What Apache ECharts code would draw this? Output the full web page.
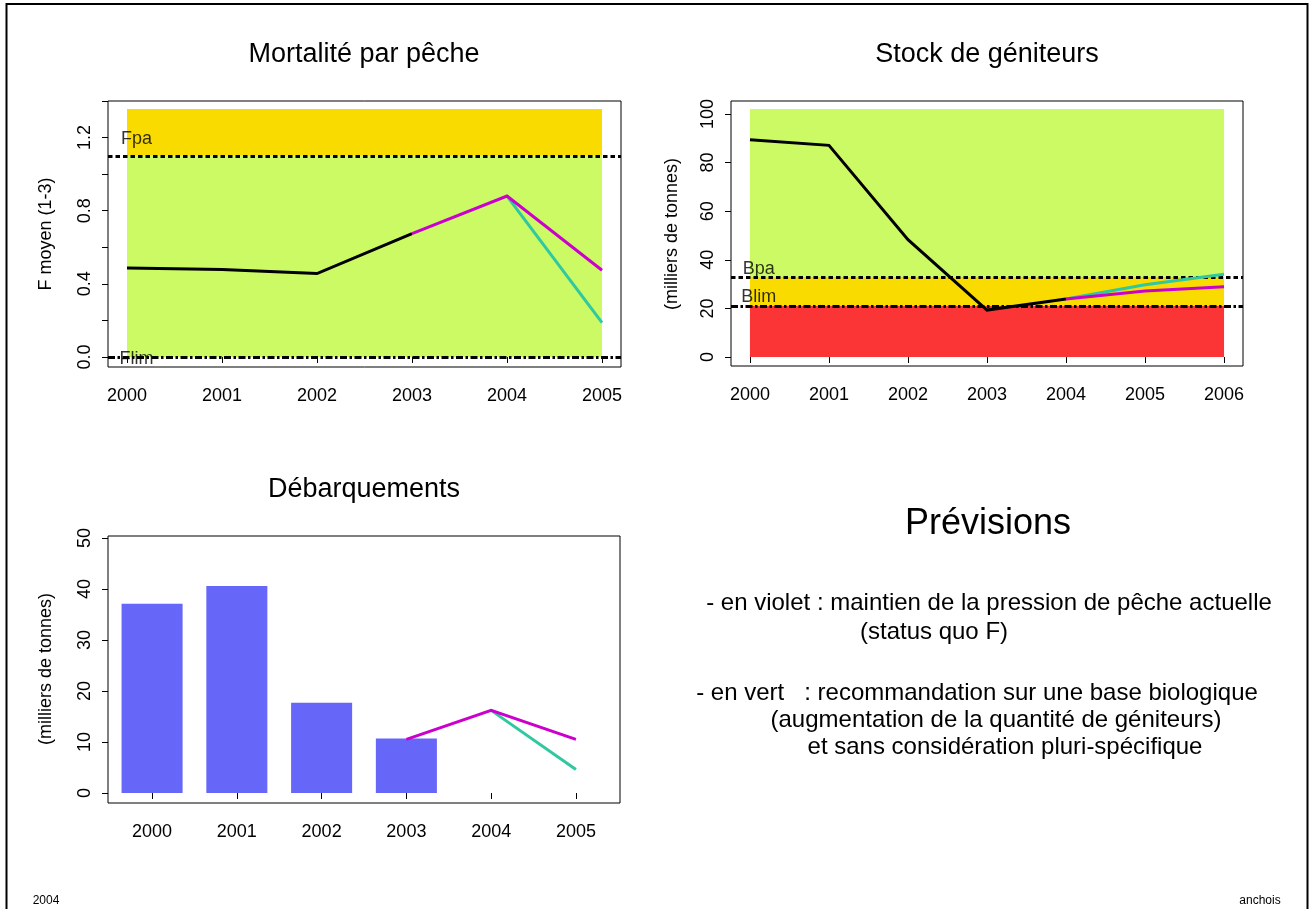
<!DOCTYPE html>
<html>
<head>
<meta charset="utf-8">
<title>Anchois 2004</title>
<script src="https://cdn.jsdelivr.net/npm/echarts@6/dist/echarts.min.js"></script>
<style>
  html, body { margin: 0; padding: 0; background: #fff; }
  #chart { width: 1310px; height: 909px; }
</style>
</head>
<body>
<div id="chart"></div>
<script>
// ---- Mortalité par pêche ----
const fYears = [2000, 2001, 2002, 2003, 2004, 2005];
const fObserved = [0.487, 0.478, 0.456, 0.675];          // 2000-2003
const fStatusQuoYears = [2003, 2004, 2005];
const fStatusQuo = [0.675, 0.880, 0.474];
const fBioYears = [2004, 2005];
const fBio = [0.880, 0.188];
const Fpa = 1.1;
const Flim = 0;
const fZoneTop = 1.356;
const fTickValues = [0, 0.2, 0.4, 0.6, 0.8, 1.0, 1.2, 1.4];
const fLabelValues = [0, 0.4, 0.8, 1.2];

// ---- Stock de géniteurs ----
const ssbYears = [2000, 2001, 2002, 2003, 2004, 2005, 2006];
const ssbObserved = [89.4, 87.1, 48.3, 19.3, 23.9];       // 2000-2004
const ssbProjYears = [2004, 2005, 2006];
const ssbStatusQuo = [23.9, 27.2, 28.9];
const ssbBio = [23.9, 29.7, 34.1];
const Bpa = 33;
const Blim = 21;
const ssbZoneTop = 102.1;
const ssbTickValues = [0, 20, 40, 60, 80, 100];

// ---- Débarquements ----
const landYears = [2000, 2001, 2002, 2003, 2004, 2005];
const landBarYears = [2000, 2001, 2002, 2003];
const landBars = [37.1, 40.6, 17.7, 10.7];
const landStatusQuoYears = [2003, 2004, 2005];
const landStatusQuo = [10.5, 16.2, 10.5];
const landBioYears = [2004, 2005];
const landBio = [16.2, 4.6];
const landTickValues = [0, 10, 20, 30, 40, 50];

// reference-point labels: [x, y, text]
const fRefLabels = [[2000.1, 1.19, 'Fpa'], [2000.1, -0.014, 'Flim']];
const ssbRefLabels = [[2000.11, 36.0, 'Bpa'], [2000.11, 24.5, 'Blim']];

const BLACK = '#000000';
const PURPLE = '#CC00CC';
const TEAL = '#30C8A0';
const GREEN_ZONE = '#CBFA64';
const YELLOW_ZONE = '#F9DB00';
const RED_ZONE = '#FB3535';
const BAR_COLOR = '#6666F8';
const BAR_HALF = 0.36;
const FONT = 'Liberation Sans, Arial, sans-serif';
const DOTTED = [4.5, 3];
const DOTDASH = [7, 2.5, 2.5, 2.5];

const zip = (xs, ys) => xs.map((x, i) => [x, ys[i]]);

function xAxisFor(idx, min, max, years) {
  return {
    type: 'value', gridIndex: idx, min: min, max: max,
    axisLine: { show: false },
    splitLine: { show: false },
    axisTick: { show: true, inside: false, length: 6, customValues: years,
                lineStyle: { color: BLACK, width: 1 } },
    axisLabel: { show: true, customValues: years, margin: 20,
                 color: BLACK, fontSize: 18, fontFamily: FONT,
                 formatter: v => String(Math.round(v)) }
  };
}

function yAxisFor(idx, min, max, ticks, labels, fmt) {
  return {
    type: 'value', gridIndex: idx, min: min, max: max,
    axisLine: { show: false },
    splitLine: { show: false },
    axisTick: { show: true, inside: false, length: 6, customValues: ticks,
                lineStyle: { color: BLACK, width: 1 } },
    axisLabel: { show: true, customValues: labels, rotate: 90, margin: 14,
                 color: BLACK, fontSize: 18, fontFamily: FONT, formatter: fmt }
  };
}

function lineSeries(idx, data, color) {
  return {
    type: 'line', xAxisIndex: idx, yAxisIndex: idx, data: data,
    symbol: 'none', z: 5, silent: true,
    lineStyle: { color: color, width: 3, join: 'miter', cap: 'butt' }
  };
}

function refLineSeries(idx, value, pattern) {
  return {
    type: 'line', xAxisIndex: idx, yAxisIndex: idx, data: [], z: 6, silent: true,
    markLine: {
      silent: true, symbol: ['none', 'none'], animation: false,
      label: { show: false },
      lineStyle: { color: BLACK, width: 3, type: pattern, opacity: 1 },
      emphasis: { disabled: true },
      data: [{ yAxis: value }]
    }
  };
}

function zoneSeries(idx, zones) {
  return {
    type: 'line', xAxisIndex: idx, yAxisIndex: idx, data: [], z: 1, silent: true,
    markArea: {
      silent: true, animation: false,
      data: zones.map(z => [
        { xAxis: z[0], yAxis: z[1], itemStyle: { color: z[4], opacity: 1 } },
        { xAxis: z[2], yAxis: z[3] }
      ])
    }
  };
}

function labelSeries(idx, items) {
  return {
    type: 'scatter', xAxisIndex: idx, yAxisIndex: idx, data: items,
    symbolSize: 1, z: 4, silent: true,
    itemStyle: { color: 'rgba(0,0,0,0)' },
    label: { show: true, position: 'inside', formatter: p => p.data[2],
             color: BLACK, fontSize: 18, fontFamily: FONT }
  };
}

const chart = echarts.init(document.getElementById('chart'), null, { renderer: 'canvas' });

const gridStyle = { show: true, borderColor: BLACK, borderWidth: 1, backgroundColor: 'transparent' };

const option = {
  animation: false,
  backgroundColor: '#ffffff',
  grid: [
    Object.assign({ left: 108, top: 101, width: 513, height: 266 }, gridStyle),
    Object.assign({ left: 731, top: 101, width: 512, height: 265 }, gridStyle),
    Object.assign({ left: 108, top: 536, width: 512, height: 267 }, gridStyle)
  ],
  xAxis: [
    xAxisFor(0, 1999.8, 2005.2, fYears),
    xAxisFor(1, 1999.76, 2006.24, ssbYears),
    xAxisFor(2, 1999.48, 2005.52, landYears)
  ],
  yAxis: [
    yAxisFor(0, -0.055, 1.4, fTickValues, fLabelValues, v => v.toFixed(1)),
    yAxisFor(1, -3.7, 105.35, ssbTickValues, ssbTickValues, v => String(Math.round(v))),
    yAxisFor(2, -1.96, 50.39, landTickValues, landTickValues, v => String(Math.round(v)))
  ],
  series: [
    // fishing mortality
    zoneSeries(0, [[2000, 0, 2005, Fpa, GREEN_ZONE], [2000, Fpa, 2005, fZoneTop, YELLOW_ZONE]]),
    labelSeries(0, fRefLabels),
    lineSeries(0, zip(fYears.slice(0, fObserved.length), fObserved), BLACK),
    lineSeries(0, zip(fBioYears, fBio), TEAL),
    lineSeries(0, zip(fStatusQuoYears, fStatusQuo), PURPLE),
    refLineSeries(0, Fpa, DOTTED),
    refLineSeries(0, Flim, DOTDASH),

    // spawning stock biomass
    zoneSeries(1, [[2000, 0, 2006, Blim, RED_ZONE], [2000, Blim, 2006, Bpa, YELLOW_ZONE],
                   [2000, Bpa, 2006, ssbZoneTop, GREEN_ZONE]]),
    labelSeries(1, ssbRefLabels),
    lineSeries(1, zip(ssbYears.slice(0, ssbObserved.length), ssbObserved), BLACK),
    lineSeries(1, zip(ssbProjYears, ssbBio), TEAL),
    lineSeries(1, zip(ssbProjYears, ssbStatusQuo), PURPLE),
    refLineSeries(1, Bpa, DOTTED),
    refLineSeries(1, Blim, DOTDASH),

    // landings
    {
      type: 'custom', xAxisIndex: 2, yAxisIndex: 2, z: 2, silent: true,
      data: zip(landBarYears, landBars),
      renderItem: function (params, api) {
        const x = api.value(0), v = api.value(1);
        const topLeft = api.coord([x - BAR_HALF, v]);
        const bottomRight = api.coord([x + BAR_HALF, 0]);
        return {
          type: 'rect',
          shape: { x: topLeft[0], y: topLeft[1],
                   width: bottomRight[0] - topLeft[0], height: bottomRight[1] - topLeft[1] },
          style: { fill: BAR_COLOR }
        };
      }
    },
    lineSeries(2, zip(landBioYears, landBio), TEAL),
    lineSeries(2, zip(landStatusQuoYears, landStatusQuo), PURPLE)
  ],
  graphic: [
    { type: 'rect', silent: true, z: 100,
      shape: { x: 6.5, y: 4, width: 1301, height: 940 },
      style: { fill: 'none', stroke: BLACK, lineWidth: 2 } },

    { type: 'text', x: 364, y: 55, silent: true,
      style: { text: 'Mortalité par pêche', font: '27px ' + FONT, fill: BLACK,
               textAlign: 'center', textVerticalAlign: 'middle' } },
    { type: 'text', x: 987, y: 55, silent: true,
      style: { text: 'Stock de géniteurs', font: '27px ' + FONT, fill: BLACK,
               textAlign: 'center', textVerticalAlign: 'middle' } },
    { type: 'text', x: 364, y: 490, silent: true,
      style: { text: 'Débarquements', font: '27px ' + FONT, fill: BLACK,
               textAlign: 'center', textVerticalAlign: 'middle' } },

    { type: 'text', x: 46, y: 234, rotation: Math.PI / 2, silent: true,
      style: { text: 'F moyen (1-3)', font: '18px ' + FONT, fill: BLACK,
               textAlign: 'center', textVerticalAlign: 'middle' } },
    { type: 'text', x: 672, y: 234, rotation: Math.PI / 2, silent: true,
      style: { text: '(milliers de tonnes)', font: '18px ' + FONT, fill: BLACK,
               textAlign: 'center', textVerticalAlign: 'middle' } },
    { type: 'text', x: 46, y: 669, rotation: Math.PI / 2, silent: true,
      style: { text: '(milliers de tonnes)', font: '18px ' + FONT, fill: BLACK,
               textAlign: 'center', textVerticalAlign: 'middle' } },

    { type: 'text', x: 988, y: 524, silent: true,
      style: { text: 'Prévisions', font: '36px ' + FONT, fill: BLACK,
               textAlign: 'center', textVerticalAlign: 'middle' } },
    { type: 'text', x: 989, y: 603, silent: true,
      style: { text: '- en violet : maintien de la pression de pêche actuelle', font: '24px ' + FONT,
               fill: BLACK, textAlign: 'center', textVerticalAlign: 'middle' } },
    { type: 'text', x: 934, y: 632, silent: true,
      style: { text: '(status quo F)', font: '24px ' + FONT, fill: BLACK,
               textAlign: 'center', textVerticalAlign: 'middle' } },
    { type: 'text', x: 977, y: 693, silent: true,
      style: { text: '- en vert   : recommandation sur une base biologique', font: '24px ' + FONT,
               fill: BLACK, textAlign: 'center', textVerticalAlign: 'middle' } },
    { type: 'text', x: 996, y: 720, silent: true,
      style: { text: '(augmentation de la quantité de géniteurs)', font: '24px ' + FONT,
               fill: BLACK, textAlign: 'center', textVerticalAlign: 'middle' } },
    { type: 'text', x: 1005, y: 747, silent: true,
      style: { text: 'et sans considération pluri-spécifique', font: '24px ' + FONT,
               fill: BLACK, textAlign: 'center', textVerticalAlign: 'middle' } },

    { type: 'text', x: 46, y: 901, silent: true,
      style: { text: '2004', font: '12px ' + FONT, fill: BLACK,
               textAlign: 'center', textVerticalAlign: 'middle' } },
    { type: 'text', x: 1260, y: 901, silent: true,
      style: { text: 'anchois', font: '12px ' + FONT, fill: BLACK,
               textAlign: 'center', textVerticalAlign: 'middle' } }
  ]
};

chart.setOption(option);
</script>
</body>
</html>
